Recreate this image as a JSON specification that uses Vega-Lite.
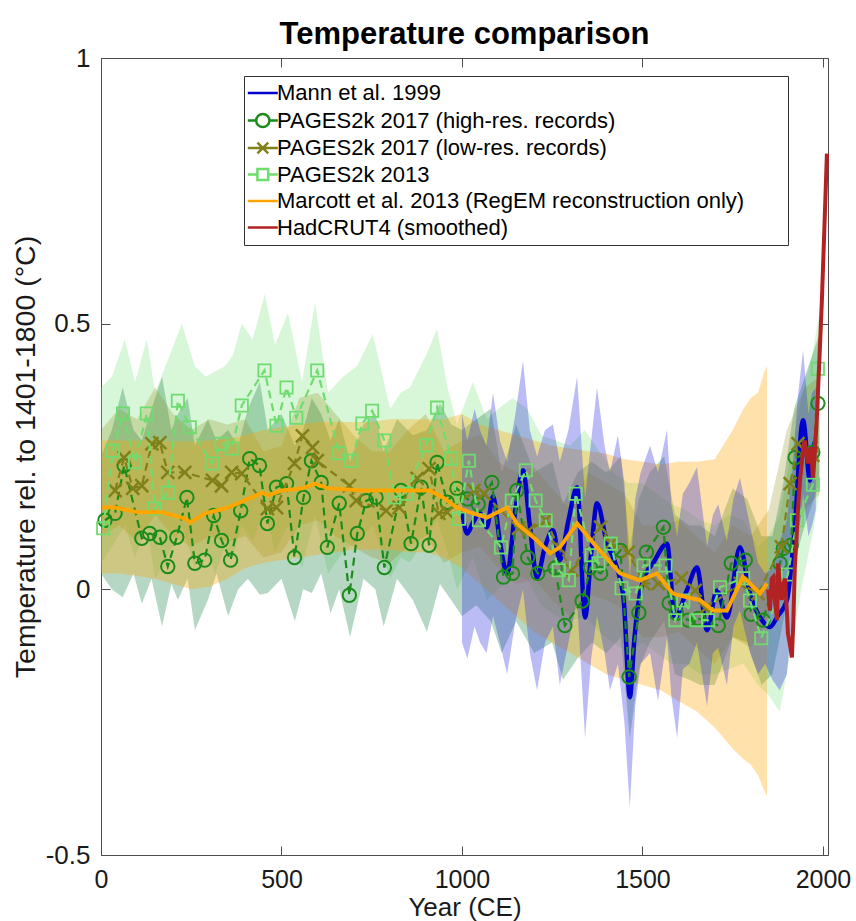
{
"$schema": "https://vega.github.io/schema/vega-lite/v6.json",
"width": 727, "height": 797,
"autosize": {"type": "none"},
"padding": {"left": 101, "top": 58, "right": 28, "bottom": 66},
"background": "white",
"title": {"text": "Temperature comparison", "fontSize": 31, "fontWeight": "bold", "anchor": "middle", "offset": -6, "color": "black", "font": "Liberation Sans"},
"config": {
  "font": "Liberation Sans",
  "view": {"stroke": "#4d4d4d", "strokeWidth": 1},
  "axis": {"grid": false, "domain": false, "labelFont": "Liberation Sans", "titleFont": "Liberation Sans", "labelColor": "#1a1a1a", "titleColor": "#1a1a1a", "tickColor": "#4d4d4d", "labelFlush": false, "labelOverlap": false, "labelBound": false},
  "legend": {"orient": "none", "legendX": 143, "legendY": 18, "direction": "vertical", "strokeColor": "#333333", "fillColor": "white", "padding": 6, "labelFont": "Liberation Sans", "labelFontSize": 22, "labelColor": "black", "labelOffset": 5, "labelLimit": 700, "rowPadding": 4.5, "symbolSize": 144, "symbolStrokeWidth": 2.5, "symbolOpacity": 1, "titleOrient": "right", "titlePadding": 38}
},
"resolve": {"axis": {"x": "independent", "y": "independent"}},
"datasets": {
  "b13": [
    {"year":0,"lo":0.05,"hi":0.38},{"year":30,"lo":0.08,"hi":0.40},{"year":66,"lo":0.12,"hi":0.47},{"year":94,"lo":0.06,"hi":0.39},{"year":127,"lo":0.12,"hi":0.47},{"year":150,"lo":0.02,"hi":0.37},{"year":190,"lo":0.07,"hi":0.44},{"year":224,"lo":0.12,"hi":0.50},{"year":260,"lo":0.04,"hi":0.42},{"year":290,"lo":0.08,"hi":0.40},{"year":316,"lo":0.03,"hi":0.41},{"year":343,"lo":0.08,"hi":0.42},{"year":365,"lo":0.06,"hi":0.44},{"year":390,"lo":0.12,"hi":0.50},{"year":420,"lo":0.09,"hi":0.47},{"year":454,"lo":0.15,"hi":0.556},{"year":482,"lo":0.07,"hi":0.46},{"year":518,"lo":0.12,"hi":0.52},{"year":557,"lo":0.04,"hi":0.39},{"year":593,"lo":0.14,"hi":0.54},{"year":629,"lo":0.03,"hi":0.37},{"year":670,"lo":0.07,"hi":0.40},{"year":709,"lo":0.09,"hi":0.42},{"year":753,"lo":0.12,"hi":0.48},{"year":801,"lo":0.02,"hi":0.34},{"year":830,"lo":0.06,"hi":0.37},{"year":856,"lo":0.05,"hi":0.38},{"year":900,"lo":0.10,"hi":0.44},{"year":931,"lo":0.13,"hi":0.49},{"year":960,"lo":0.07,"hi":0.38},{"year":986,"lo":0.0,"hi":0.31},{"year":1030,"lo":0.06,"hi":0.39},{"year":1069,"lo":-0.02,"hi":0.32},{"year":1100,"lo":0.0,"hi":0.34},{"year":1140,"lo":0.03,"hi":0.36},{"year":1180,"lo":0.02,"hi":0.34},{"year":1220,"lo":-0.03,"hi":0.29},{"year":1260,"lo":-0.05,"hi":0.28},{"year":1300,"lo":-0.06,"hi":0.27},{"year":1340,"lo":-0.05,"hi":0.30},{"year":1380,"lo":-0.08,"hi":0.26},{"year":1420,"lo":-0.10,"hi":0.22},{"year":1460,"lo":-0.12,"hi":0.20},{"year":1500,"lo":-0.10,"hi":0.20},{"year":1540,"lo":-0.12,"hi":0.18},{"year":1580,"lo":-0.14,"hi":0.16},{"year":1620,"lo":-0.14,"hi":0.15},{"year":1660,"lo":-0.16,"hi":0.13},{"year":1700,"lo":-0.16,"hi":0.12},{"year":1740,"lo":-0.15,"hi":0.14},{"year":1780,"lo":-0.14,"hi":0.13},{"year":1820,"lo":-0.18,"hi":0.08},{"year":1850,"lo":-0.20,"hi":0.10},{"year":1880,"lo":-0.23,"hi":0.14},{"year":1910,"lo":-0.12,"hi":0.25},{"year":1940,"lo":0.0,"hi":0.36},{"year":1970,"lo":0.10,"hi":0.44},{"year":1990,"lo":0.18,"hi":0.52}
  ],
  "bhi": [
    {"year":0,"lo":0.03,"hi":0.25},{"year":30,"lo":0.0,"hi":0.30},{"year":60,"lo":-0.015,"hi":0.38},{"year":90,"lo":0.03,"hi":0.30},{"year":113,"lo":-0.027,"hi":0.28},{"year":140,"lo":0.02,"hi":0.34},{"year":169,"lo":-0.07,"hi":0.40},{"year":195,"lo":0.01,"hi":0.30},{"year":213,"lo":-0.02,"hi":0.33},{"year":240,"lo":0.02,"hi":0.36},{"year":260,"lo":-0.077,"hi":0.27},{"year":296,"lo":-0.02,"hi":0.32},{"year":320,"lo":0.03,"hi":0.28},{"year":352,"lo":-0.05,"hi":0.30},{"year":380,"lo":0.0,"hi":0.27},{"year":407,"lo":0.02,"hi":0.34},{"year":440,"lo":-0.01,"hi":0.39},{"year":462,"lo":-0.007,"hi":0.30},{"year":500,"lo":0.02,"hi":0.33},{"year":537,"lo":-0.06,"hi":0.27},{"year":560,"lo":0.0,"hi":0.30},{"year":584,"lo":-0.007,"hi":0.36},{"year":610,"lo":0.03,"hi":0.33},{"year":636,"lo":-0.045,"hi":0.28},{"year":660,"lo":0.0,"hi":0.32},{"year":690,"lo":-0.09,"hi":0.24},{"year":727,"lo":0.02,"hi":0.31},{"year":760,"lo":0.0,"hi":0.33},{"year":783,"lo":-0.07,"hi":0.26},{"year":820,"lo":0.02,"hi":0.32},{"year":864,"lo":-0.02,"hi":0.29},{"year":903,"lo":-0.08,"hi":0.30},{"year":939,"lo":0.01,"hi":0.35},{"year":970,"lo":-0.02,"hi":0.31},{"year":1000,"lo":-0.05,"hi":0.30},{"year":1040,"lo":-0.03,"hi":0.32},{"year":1080,"lo":-0.06,"hi":0.34},{"year":1110,"lo":-0.12,"hi":0.22},{"year":1150,"lo":-0.06,"hi":0.31},{"year":1200,"lo":-0.12,"hi":0.22},{"year":1250,"lo":-0.10,"hi":0.24},{"year":1280,"lo":-0.17,"hi":0.16},{"year":1320,"lo":-0.13,"hi":0.22},{"year":1360,"lo":-0.10,"hi":0.24},{"year":1400,"lo":-0.12,"hi":0.22},{"year":1440,"lo":-0.09,"hi":0.25},{"year":1465,"lo":-0.28,"hi":0.08},{"year":1490,"lo":-0.15,"hi":0.17},{"year":1520,"lo":-0.10,"hi":0.22},{"year":1560,"lo":-0.06,"hi":0.25},{"year":1590,"lo":-0.16,"hi":0.14},{"year":1630,"lo":-0.17,"hi":0.12},{"year":1660,"lo":-0.18,"hi":0.12},{"year":1700,"lo":-0.18,"hi":0.10},{"year":1750,"lo":-0.09,"hi":0.19},{"year":1790,"lo":-0.10,"hi":0.17},{"year":1830,"lo":-0.18,"hi":0.10},{"year":1860,"lo":-0.16,"hi":0.10},{"year":1890,"lo":-0.06,"hi":0.20},{"year":1920,"lo":0.05,"hi":0.34},{"year":1950,"lo":0.12,"hi":0.40},{"year":1990,"lo":0.20,"hi":0.48}
  ],
  "blo": [
    {"year":0,"lo":0.10,"hi":0.30},{"year":50,"lo":0.12,"hi":0.34},{"year":100,"lo":0.09,"hi":0.32},{"year":150,"lo":0.14,"hi":0.38},{"year":200,"lo":0.10,"hi":0.33},{"year":250,"lo":0.08,"hi":0.30},{"year":300,"lo":0.10,"hi":0.32},{"year":350,"lo":0.09,"hi":0.31},{"year":400,"lo":0.10,"hi":0.32},{"year":450,"lo":0.06,"hi":0.26},{"year":500,"lo":0.07,"hi":0.27},{"year":550,"lo":0.12,"hi":0.36},{"year":600,"lo":0.13,"hi":0.37},{"year":650,"lo":0.10,"hi":0.33},{"year":700,"lo":0.08,"hi":0.29},{"year":750,"lo":0.06,"hi":0.26},{"year":800,"lo":0.05,"hi":0.26},{"year":850,"lo":0.08,"hi":0.30},{"year":900,"lo":0.10,"hi":0.33},{"year":950,"lo":0.05,"hi":0.26},{"year":1000,"lo":0.07,"hi":0.28},{"year":1050,"lo":0.08,"hi":0.29},{"year":1100,"lo":0.04,"hi":0.24},{"year":1150,"lo":0.01,"hi":0.22},{"year":1200,"lo":0.02,"hi":0.23},{"year":1250,"lo":-0.02,"hi":0.19},{"year":1300,"lo":-0.05,"hi":0.15},{"year":1350,"lo":-0.01,"hi":0.22},{"year":1400,"lo":-0.02,"hi":0.20},{"year":1450,"lo":-0.04,"hi":0.18},{"year":1500,"lo":-0.09,"hi":0.12},{"year":1550,"lo":-0.09,"hi":0.12},{"year":1600,"lo":-0.08,"hi":0.13},{"year":1650,"lo":-0.11,"hi":0.10},{"year":1700,"lo":-0.14,"hi":0.07},{"year":1750,"lo":-0.09,"hi":0.12},{"year":1800,"lo":-0.11,"hi":0.10},{"year":1850,"lo":-0.05,"hi":0.15},{"year":1900,"lo":0.08,"hi":0.30},{"year":1950,"lo":0.15,"hi":0.38},{"year":1990,"lo":0.18,"hi":0.40}
  ],
  "bmar": [
    {"year":0,"lo":0.03,"hi":0.28},{"year":50,"lo":0.03,"hi":0.28},{"year":100,"lo":0.025,"hi":0.28},{"year":150,"lo":0.02,"hi":0.28},{"year":200,"lo":0.01,"hi":0.278},{"year":250,"lo":0.0,"hi":0.278},{"year":300,"lo":0.005,"hi":0.28},{"year":350,"lo":0.02,"hi":0.283},{"year":400,"lo":0.04,"hi":0.29},{"year":450,"lo":0.05,"hi":0.30},{"year":500,"lo":0.055,"hi":0.305},{"year":550,"lo":0.06,"hi":0.31},{"year":600,"lo":0.065,"hi":0.315},{"year":650,"lo":0.07,"hi":0.315},{"year":700,"lo":0.075,"hi":0.315},{"year":750,"lo":0.075,"hi":0.315},{"year":800,"lo":0.075,"hi":0.32},{"year":850,"lo":0.07,"hi":0.32},{"year":900,"lo":0.07,"hi":0.32},{"year":950,"lo":0.06,"hi":0.32},{"year":1000,"lo":0.04,"hi":0.33},{"year":1050,"lo":0.01,"hi":0.31},{"year":1100,"lo":-0.02,"hi":0.30},{"year":1150,"lo":-0.05,"hi":0.29},{"year":1200,"lo":-0.08,"hi":0.28},{"year":1250,"lo":-0.10,"hi":0.27},{"year":1300,"lo":-0.12,"hi":0.265},{"year":1350,"lo":-0.14,"hi":0.26},{"year":1400,"lo":-0.16,"hi":0.255},{"year":1450,"lo":-0.17,"hi":0.245},{"year":1500,"lo":-0.18,"hi":0.24},{"year":1550,"lo":-0.19,"hi":0.235},{"year":1600,"lo":-0.21,"hi":0.24},{"year":1650,"lo":-0.23,"hi":0.24},{"year":1700,"lo":-0.26,"hi":0.245},{"year":1750,"lo":-0.30,"hi":0.30},{"year":1780,"lo":-0.32,"hi":0.34},{"year":1800,"lo":-0.33,"hi":0.36},{"year":1820,"lo":-0.35,"hi":0.37},{"year":1838,"lo":-0.38,"hi":0.41},{"year":1845,"lo":-0.39,"hi":0.42}
  ],
  "bmann": [
    {"year":1000,"lo":-0.10,"hi":0.33},{"year":1015,"lo":-0.13,"hi":0.28},{"year":1035,"lo":-0.07,"hi":0.34},{"year":1050,"lo":-0.10,"hi":0.30},{"year":1068,"lo":-0.12,"hi":0.27},{"year":1086,"lo":-0.05,"hi":0.37},{"year":1105,"lo":-0.10,"hi":0.28},{"year":1125,"lo":-0.16,"hi":0.24},{"year":1148,"lo":-0.06,"hi":0.33},{"year":1169,"lo":0.0,"hi":0.43},{"year":1188,"lo":-0.12,"hi":0.30},{"year":1208,"lo":-0.19,"hi":0.25},{"year":1230,"lo":-0.10,"hi":0.30},{"year":1252,"lo":-0.07,"hi":0.31},{"year":1271,"lo":-0.18,"hi":0.24},{"year":1295,"lo":-0.10,"hi":0.30},{"year":1319,"lo":-0.02,"hi":0.40},{"year":1341,"lo":-0.28,"hi":0.17},{"year":1358,"lo":-0.13,"hi":0.28},{"year":1374,"lo":-0.05,"hi":0.38},{"year":1395,"lo":-0.12,"hi":0.27},{"year":1410,"lo":-0.19,"hi":0.22},{"year":1432,"lo":-0.14,"hi":0.29},{"year":1450,"lo":-0.25,"hi":0.20},{"year":1465,"lo":-0.41,"hi":0.02},{"year":1480,"lo":-0.22,"hi":0.17},{"year":1495,"lo":-0.14,"hi":0.22},{"year":1521,"lo":-0.12,"hi":0.27},{"year":1543,"lo":-0.21,"hi":0.22},{"year":1568,"lo":-0.09,"hi":0.30},{"year":1580,"lo":-0.20,"hi":0.16},{"year":1596,"lo":-0.28,"hi":0.10},{"year":1612,"lo":-0.15,"hi":0.18},{"year":1630,"lo":-0.14,"hi":0.20},{"year":1651,"lo":-0.10,"hi":0.23},{"year":1679,"lo":-0.22,"hi":0.08},{"year":1695,"lo":-0.12,"hi":0.14},{"year":1710,"lo":-0.11,"hi":0.16},{"year":1734,"lo":-0.18,"hi":0.09},{"year":1752,"lo":-0.07,"hi":0.17},{"year":1770,"lo":-0.04,"hi":0.21},{"year":1798,"lo":-0.12,"hi":0.12},{"year":1820,"lo":-0.16,"hi":0.05},{"year":1840,"lo":-0.14,"hi":0.03},{"year":1860,"lo":-0.17,"hi":0.04},{"year":1880,"lo":-0.19,"hi":0.09},{"year":1900,"lo":-0.16,"hi":0.13},{"year":1915,"lo":-0.05,"hi":0.22},{"year":1930,"lo":0.08,"hi":0.36},{"year":1945,"lo":0.18,"hi":0.45},{"year":1960,"lo":0.10,"hi":0.33},{"year":1970,"lo":0.12,"hi":0.37},{"year":1980,"lo":0.15,"hi":0.38}
  ],
  "mann": [
    {"year":1000,"t":0.150},{"year":1014,"t":0.105},{"year":1030,"t":0.125},{"year":1050,"t":0.143},{"year":1069,"t":0.117},{"year":1086,"t":0.175},{"year":1105,"t":0.09},{"year":1125,"t":0.030},{"year":1148,"t":0.15},{"year":1169,"t":0.224},{"year":1188,"t":0.12},{"year":1208,"t":0.023},{"year":1230,"t":0.08},{"year":1252,"t":0.111},{"year":1271,"t":0.055},{"year":1295,"t":0.13},{"year":1319,"t":0.192},{"year":1341,"t":-0.053},{"year":1358,"t":0.07},{"year":1374,"t":0.162},{"year":1402,"t":0.086},{"year":1429,"t":0.041},{"year":1448,"t":-0.02},{"year":1465,"t":-0.203},{"year":1478,"t":-0.09},{"year":1493,"t":-0.008},{"year":1510,"t":0.03},{"year":1529,"t":0.049},{"year":1568,"t":0.086},{"year":1590,"t":-0.053},{"year":1623,"t":-0.002},{"year":1651,"t":0.041},{"year":1679,"t":-0.077},{"year":1706,"t":-0.002},{"year":1734,"t":-0.053},{"year":1770,"t":0.079},{"year":1798,"t":-0.008},{"year":1831,"t":-0.058},{"year":1853,"t":-0.071},{"year":1875,"t":-0.05},{"year":1900,"t":-0.021},{"year":1920,"t":0.1},{"year":1945,"t":0.318},{"year":1964,"t":0.205},{"year":1972,"t":0.261},{"year":1980,"t":0.28}
  ],
  "hires": [
    {"year":11,"t":0.130},{"year":39,"t":0.143},{"year":64,"t":0.233},{"year":113,"t":0.096},{"year":135,"t":0.105},{"year":163,"t":0.098},{"year":185,"t":0.043},{"year":210,"t":0.098},{"year":238,"t":0.173},{"year":260,"t":0.049},{"year":287,"t":0.055},{"year":312,"t":0.139},{"year":334,"t":0.092},{"year":359,"t":0.055},{"year":387,"t":0.148},{"year":412,"t":0.246},{"year":439,"t":0.233},{"year":461,"t":0.124},{"year":486,"t":0.192},{"year":514,"t":0.199},{"year":536,"t":0.060},{"year":561,"t":0.173},{"year":583,"t":0.242},{"year":610,"t":0.201},{"year":627,"t":0.079},{"year":660,"t":0.162},{"year":688,"t":-0.011},{"year":710,"t":0.105},{"year":735,"t":0.167},{"year":762,"t":0.173},{"year":785,"t":0.041},{"year":831,"t":0.186},{"year":859,"t":0.086},{"year":887,"t":0.192},{"year":909,"t":0.083},{"year":931,"t":0.239},{"year":959,"t":0.164},{"year":986,"t":0.190},{"year":1015,"t":0.17},{"year":1045,"t":0.16},{"year":1083,"t":0.201},{"year":1115,"t":0.023},{"year":1140,"t":0.030},{"year":1152,"t":0.186},{"year":1182,"t":0.060},{"year":1210,"t":0.030},{"year":1258,"t":0.040},{"year":1285,"t":-0.068},{"year":1333,"t":-0.022},{"year":1356,"t":0.041},{"year":1384,"t":0.030},{"year":1439,"t":0.073},{"year":1463,"t":-0.165},{"year":1490,"t":-0.044},{"year":1511,"t":0.070},{"year":1558,"t":0.117},{"year":1574,"t":-0.026},{"year":1594,"t":-0.045},{"year":1627,"t":-0.058},{"year":1655,"t":-0.055},{"year":1710,"t":-0.068},{"year":1746,"t":0.049},{"year":1785,"t":0.055},{"year":1801,"t":-0.047},{"year":1834,"t":-0.058},{"year":1881,"t":0.049},{"year":1890,"t":0.077},{"year":1912,"t":0.083},{"year":1923,"t":0.248},{"year":1972,"t":0.258},{"year":1986,"t":0.350}
  ],
  "lores": [
    {"year":39,"t":0.186},{"year":64,"t":0.248},{"year":88,"t":0.190},{"year":113,"t":0.195},{"year":141,"t":0.274},{"year":163,"t":0.276},{"year":185,"t":0.220},{"year":232,"t":0.220},{"year":309,"t":0.205},{"year":334,"t":0.195},{"year":362,"t":0.220},{"year":390,"t":0.218},{"year":461,"t":0.152},{"year":486,"t":0.154},{"year":536,"t":0.237},{"year":558,"t":0.289},{"year":586,"t":0.267},{"year":599,"t":0.242},{"year":688,"t":0.195},{"year":707,"t":0.167},{"year":790,"t":0.148},{"year":826,"t":0.154},{"year":876,"t":0.209},{"year":909,"t":0.227},{"year":936,"t":0.143},{"year":959,"t":0.145},{"year":1033,"t":0.186},{"year":1061,"t":0.180},{"year":1157,"t":0.115},{"year":1185,"t":0.111},{"year":1232,"t":0.130},{"year":1268,"t":0.079},{"year":1304,"t":0.036},{"year":1384,"t":0.117},{"year":1412,"t":0.086},{"year":1461,"t":0.070},{"year":1503,"t":0.011},{"year":1544,"t":0.011},{"year":1608,"t":0.021},{"year":1646,"t":-0.002},{"year":1674,"t":-0.036},{"year":1771,"t":0.011},{"year":1820,"t":-0.008},{"year":1885,"t":0.08},{"year":1909,"t":0.199},{"year":1931,"t":0.274},{"year":1972,"t":0.252}
  ],
  "p13": [
    {"year":6,"t":0.115},{"year":33,"t":0.261},{"year":61,"t":0.331},{"year":94,"t":0.239},{"year":127,"t":0.331},{"year":149,"t":0.152},{"year":185,"t":0.182},{"year":213,"t":0.355},{"year":246,"t":0.305},{"year":307,"t":0.237},{"year":334,"t":0.274},{"year":362,"t":0.265},{"year":390,"t":0.346},{"year":453,"t":0.412},{"year":486,"t":0.308},{"year":514,"t":0.380},{"year":541,"t":0.323},{"year":599,"t":0.412},{"year":660,"t":0.256},{"year":693,"t":0.242},{"year":724,"t":0.312},{"year":751,"t":0.336},{"year":785,"t":0.280},{"year":812,"t":0.173},{"year":845,"t":0.180},{"year":901,"t":0.271},{"year":931,"t":0.342},{"year":970,"t":0.246},{"year":992,"t":0.133},{"year":1019,"t":0.242},{"year":1047,"t":0.130},{"year":1108,"t":0.079},{"year":1138,"t":0.167},{"year":1177,"t":0.224},{"year":1204,"t":0.167},{"year":1232,"t":0.130},{"year":1268,"t":0.036},{"year":1296,"t":0.017},{"year":1315,"t":0.180},{"year":1359,"t":0.064},{"year":1378,"t":0.049},{"year":1412,"t":0.086},{"year":1442,"t":0.002},{"year":1481,"t":-0.008},{"year":1503,"t":0.045},{"year":1564,"t":0.045},{"year":1591,"t":-0.058},{"year":1613,"t":-0.021},{"year":1649,"t":-0.058},{"year":1682,"t":-0.058},{"year":1715,"t":0.004},{"year":1779,"t":0.021},{"year":1798,"t":-0.021},{"year":1829,"t":-0.092},{"year":1903,"t":0.028},{"year":1928,"t":0.130},{"year":1972,"t":0.197},{"year":1986,"t":0.415}
  ],
  "marcott": [
    {"year":3,"t":0.154},{"year":39,"t":0.154},{"year":102,"t":0.145},{"year":169,"t":0.145},{"year":233,"t":0.133},{"year":247,"t":0.126},{"year":288,"t":0.143},{"year":352,"t":0.154},{"year":418,"t":0.173},{"year":446,"t":0.182},{"year":463,"t":0.177},{"year":501,"t":0.186},{"year":557,"t":0.190},{"year":593,"t":0.199},{"year":629,"t":0.190},{"year":726,"t":0.186},{"year":820,"t":0.186},{"year":911,"t":0.186},{"year":947,"t":0.173},{"year":986,"t":0.154},{"year":1022,"t":0.145},{"year":1069,"t":0.135},{"year":1125,"t":0.154},{"year":1152,"t":0.124},{"year":1208,"t":0.092},{"year":1244,"t":0.068},{"year":1271,"t":0.079},{"year":1319,"t":0.124},{"year":1374,"t":0.079},{"year":1438,"t":0.030},{"year":1493,"t":0.017},{"year":1540,"t":0.030},{"year":1584,"t":-0.008},{"year":1623,"t":-0.015},{"year":1659,"t":-0.020},{"year":1695,"t":-0.040},{"year":1734,"t":-0.040},{"year":1778,"t":0.023},{"year":1798,"t":0.011},{"year":1825,"t":-0.008},{"year":1845,"t":0.011}
  ],
  "had": [
    {"year":1848,"t":0.0},{"year":1853,"t":-0.04},{"year":1858,"t":0.02},{"year":1862,"t":0.023},{"year":1868,"t":-0.03},{"year":1873,"t":-0.058},{"year":1876,"t":0.049},{"year":1880,"t":0.01},{"year":1886,"t":-0.02},{"year":1890,"t":0.01},{"year":1895,"t":0.02},{"year":1900,"t":-0.04},{"year":1903,"t":-0.083},{"year":1910,"t":-0.11},{"year":1914,"t":-0.128},{"year":1918,"t":-0.06},{"year":1922,"t":0.04},{"year":1927,"t":0.10},{"year":1931,"t":0.154},{"year":1937,"t":0.21},{"year":1942,"t":0.242},{"year":1946,"t":0.27},{"year":1950,"t":0.28},{"year":1955,"t":0.25},{"year":1958,"t":0.237},{"year":1963,"t":0.26},{"year":1967,"t":0.267},{"year":1972,"t":0.21},{"year":1977,"t":0.25},{"year":1983,"t":0.323},{"year":1990,"t":0.43},{"year":1997,"t":0.543},{"year":2004,"t":0.68},{"year":2011,"t":0.82}
  ],
  "leg": [
    {"series":"Mann et al. 1999"},{"series":"PAGES2k 2017 (high-res. records)"},{"series":"PAGES2k 2017 (low-res. records)"},{"series":"PAGES2k 2013"},{"series":"Marcott et al. 2013 (RegEM reconstruction only)"},{"series":"HadCRUT4 (smoothed)"}
  ]
},
"layer": [
  {"data": {"name": "b13"}, "mark": {"type": "area", "color": "#7FE07F", "opacity": 0.3},
   "encoding": {
     "x": {"field": "year", "type": "quantitative", "scale": {"domain": [0, 2014], "nice": false, "zero": false},
           "axis": {"orient": "bottom", "values": [0, 500, 1000, 1500, 2000], "ticks": false, "labelPadding": 12, "labelFontSize": 25, "labelExpr": "format(datum.value, 'd')", "title": "Year (CE)", "titleFontSize": 26, "titleFontWeight": "normal", "titlePadding": 2}},
     "y": {"field": "lo", "type": "quantitative", "scale": {"domain": [-0.5, 1], "nice": false, "zero": false},
           "axis": {"orient": "left", "values": [-0.5, 0, 0.5, 1], "ticks": false, "labelPadding": 11, "labelFontSize": 26, "labelExpr": "datum.value < 0 ? '-' + format(-datum.value, '~g') : format(datum.value, '~g')", "title": "Temperature rel. to 1401-1800 (°C)", "titleFontSize": 28.5, "titleFontWeight": "normal", "titlePadding": 5}},
     "y2": {"field": "hi"}}},
  {"data": {"name": "bhi"}, "mark": {"type": "area", "color": "#2E8B57", "opacity": 0.35},
   "encoding": {
     "x": {"field": "year", "type": "quantitative", "scale": {"domain": [0, 2014], "nice": false, "zero": false},
           "axis": {"orient": "bottom", "offset": -9, "tickSize": 9, "labels": false, "title": null, "values": [0, 500, 1000, 1500, 2000]}},
     "y": {"field": "lo", "type": "quantitative", "scale": {"domain": [-0.5, 1], "nice": false, "zero": false},
           "axis": {"orient": "left", "offset": -9, "tickSize": 9, "labels": false, "title": null, "values": [-0.5, 0, 0.5, 1]}},
     "y2": {"field": "hi"}}},
  {"data": {"name": "blo"}, "mark": {"type": "area", "color": "#8B8B10", "opacity": 0.25},
   "encoding": {
     "x": {"field": "year", "type": "quantitative", "scale": {"domain": [0, 2014], "nice": false, "zero": false},
           "axis": {"orient": "top", "offset": -9, "tickSize": 9, "labels": false, "title": null, "values": [0, 500, 1000, 1500, 2000]}},
     "y": {"field": "lo", "type": "quantitative", "scale": {"domain": [-0.5, 1], "nice": false, "zero": false},
           "axis": {"orient": "right", "offset": -9, "tickSize": 9, "labels": false, "title": null, "values": [-0.5, 0, 0.5, 1]}},
     "y2": {"field": "hi"}}},
  {"data": {"name": "bmar"}, "mark": {"type": "area", "color": "#FFA500", "opacity": 0.33},
   "encoding": {
     "x": {"field": "year", "type": "quantitative", "scale": {"domain": [0, 2014], "nice": false, "zero": false}, "axis": null},
     "y": {"field": "lo", "type": "quantitative", "scale": {"domain": [-0.5, 1], "nice": false, "zero": false}, "axis": null},
     "y2": {"field": "hi"}}},
  {"data": {"name": "bmann"}, "mark": {"type": "area", "color": "#3030E0", "opacity": 0.33},
   "encoding": {
     "x": {"field": "year", "type": "quantitative", "scale": {"domain": [0, 2014], "nice": false, "zero": false}, "axis": null},
     "y": {"field": "lo", "type": "quantitative", "scale": {"domain": [-0.5, 1], "nice": false, "zero": false}, "axis": null},
     "y2": {"field": "hi"}}},
  {"data": {"name": "mann"}, "mark": {"type": "line", "color": "#0000CD", "strokeWidth": 4.5, "interpolate": "monotone"},
   "encoding": {
     "x": {"field": "year", "type": "quantitative", "scale": {"domain": [0, 2014], "nice": false, "zero": false}, "axis": null},
     "y": {"field": "t", "type": "quantitative", "scale": {"domain": [-0.5, 1], "nice": false, "zero": false}, "axis": null}}},
  {"data": {"name": "hires"}, "mark": {"type": "line", "color": "#1A8C1A", "strokeWidth": 2.2, "strokeDash": [8, 5]},
   "encoding": {
     "x": {"field": "year", "type": "quantitative", "scale": {"domain": [0, 2014], "nice": false, "zero": false}, "axis": null},
     "y": {"field": "t", "type": "quantitative", "scale": {"domain": [-0.5, 1], "nice": false, "zero": false}, "axis": null}}},
  {"data": {"name": "hires"}, "mark": {"type": "point", "shape": "circle", "filled": false, "color": "#1A8C1A", "size": 180, "strokeWidth": 2, "opacity": 1},
   "encoding": {
     "x": {"field": "year", "type": "quantitative", "scale": {"domain": [0, 2014], "nice": false, "zero": false}, "axis": null},
     "y": {"field": "t", "type": "quantitative", "scale": {"domain": [-0.5, 1], "nice": false, "zero": false}, "axis": null}}},
  {"data": {"name": "lores"}, "mark": {"type": "line", "color": "#80801A", "strokeWidth": 2.2, "strokeDash": [8, 5]},
   "encoding": {
     "x": {"field": "year", "type": "quantitative", "scale": {"domain": [0, 2014], "nice": false, "zero": false}, "axis": null},
     "y": {"field": "t", "type": "quantitative", "scale": {"domain": [-0.5, 1], "nice": false, "zero": false}, "axis": null}}},
  {"data": {"name": "lores"}, "mark": {"type": "point", "shape": "M-1,-1L1,1M-1,1L1,-1", "filled": false, "color": "#80801A", "size": 170, "strokeWidth": 2.5, "opacity": 1},
   "encoding": {
     "x": {"field": "year", "type": "quantitative", "scale": {"domain": [0, 2014], "nice": false, "zero": false}, "axis": null},
     "y": {"field": "t", "type": "quantitative", "scale": {"domain": [-0.5, 1], "nice": false, "zero": false}, "axis": null}}},
  {"data": {"name": "p13"}, "mark": {"type": "line", "color": "#6FDC6F", "strokeWidth": 2.2, "strokeDash": [8, 5]},
   "encoding": {
     "x": {"field": "year", "type": "quantitative", "scale": {"domain": [0, 2014], "nice": false, "zero": false}, "axis": null},
     "y": {"field": "t", "type": "quantitative", "scale": {"domain": [-0.5, 1], "nice": false, "zero": false}, "axis": null}}},
  {"data": {"name": "p13"}, "mark": {"type": "point", "shape": "square", "filled": false, "color": "#6FDC6F", "size": 150, "strokeWidth": 1.8, "opacity": 1},
   "encoding": {
     "x": {"field": "year", "type": "quantitative", "scale": {"domain": [0, 2014], "nice": false, "zero": false}, "axis": null},
     "y": {"field": "t", "type": "quantitative", "scale": {"domain": [-0.5, 1], "nice": false, "zero": false}, "axis": null}}},
  {"data": {"name": "marcott"}, "mark": {"type": "line", "color": "#FFA500", "strokeWidth": 4},
   "encoding": {
     "x": {"field": "year", "type": "quantitative", "scale": {"domain": [0, 2014], "nice": false, "zero": false}, "axis": null},
     "y": {"field": "t", "type": "quantitative", "scale": {"domain": [-0.5, 1], "nice": false, "zero": false}, "axis": null}}},
  {"data": {"name": "had"}, "mark": {"type": "line", "color": "#B22222", "strokeWidth": 4},
   "encoding": {
     "x": {"field": "year", "type": "quantitative", "scale": {"domain": [0, 2014], "nice": false, "zero": false}, "axis": null},
     "y": {"field": "t", "type": "quantitative", "scale": {"domain": [-0.5, 1], "nice": false, "zero": false}, "axis": null}}},
  {"data": {"name": "leg"}, "mark": {"type": "point", "filled": false, "opacity": 0, "size": 144},
   "encoding": {
     "color": {"field": "series", "type": "nominal",
       "scale": {"domain": ["Mann et al. 1999", "PAGES2k 2017 (high-res. records)", "PAGES2k 2017 (low-res. records)", "PAGES2k 2013", "Marcott et al. 2013 (RegEM reconstruction only)", "HadCRUT4 (smoothed)"],
                 "range": ["#0000CD", "#1A8C1A", "#80801A", "#6FDC6F", "#FFA500", "#B22222"]},
       "legend": {"title": " ", "symbolOpacity": 1}},
     "shape": {"field": "series", "type": "nominal",
       "scale": {"domain": ["Mann et al. 1999", "PAGES2k 2017 (high-res. records)", "PAGES2k 2017 (low-res. records)", "PAGES2k 2013", "Marcott et al. 2013 (RegEM reconstruction only)", "HadCRUT4 (smoothed)"],
                 "range": ["M-2.2,0H2.8", "M-2.2,0H-0.8M1.4,0H2.8M-0.8,0A1.1,1.1,0,1,1,1.4,0A1.1,1.1,0,1,1,-0.8,0", "M-2.2,0H2.8M-0.6,-0.9L1.2,0.9M-0.6,0.9L1.2,-0.9", "M-2.2,0H-0.6M1.2,0H2.8M-0.6,-0.9H1.2V0.9H-0.6Z", "M-2.2,0H2.8", "M-2.2,0H2.8"]},
       "legend": {"title": " ", "symbolOpacity": 1}}}}
]
}
